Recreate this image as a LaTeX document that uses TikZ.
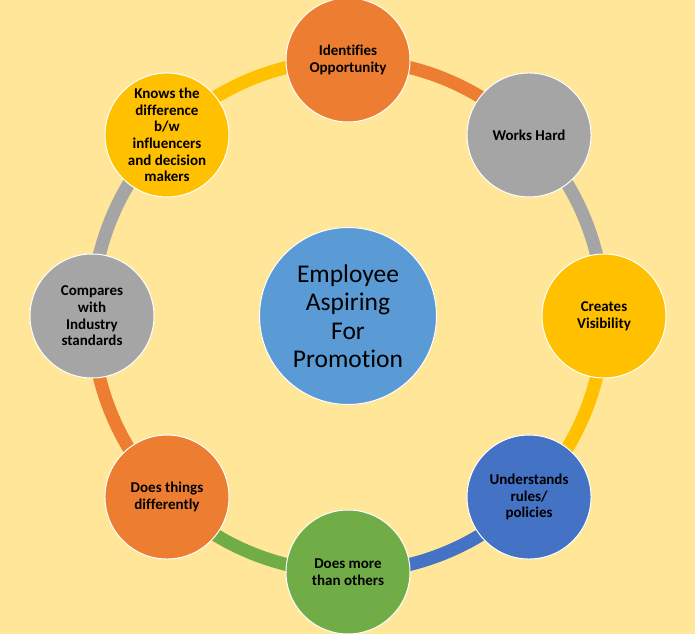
\documentclass[tikz,border=0pt]{standalone}
\usepackage{fontspec}
\setmainfont{Carlito}[Ligatures={NoCommon,NoRare}]
\usetikzlibrary{calc}
\definecolor{bg}{HTML}{FFE699}
\definecolor{corange}{HTML}{ED7D31}
\definecolor{cgray}{HTML}{A5A5A5}
\definecolor{cgold}{HTML}{FFC000}
\definecolor{cblue}{HTML}{4472C4}
\definecolor{cgreen}{HTML}{70AD47}
\definecolor{ccenter}{HTML}{5B9BD5}
\tikzset{
  outer/.style={circle, draw=white, line width=1pt, minimum size=124pt, inner sep=0pt, align=center,
    font=\fontsize{15}{16.7}\selectfont\bfseries, text=black},
  ring/.style={line width=13pt},
}
\begin{document}
\begin{tikzpicture}[x=1pt,y=1pt]
\fill[bg] (0,0) rectangle (695,634);
\useasboundingbox (0,0) rectangle (695,634);
\coordinate (c) at (348,318);
\draw[ring,corange] (c) ++(90:256) arc[start angle=90,end angle=45,radius=256];
\draw[ring,cgray] (c) ++(45:256) arc[start angle=45,end angle=0,radius=256];
\draw[ring,cgold] (c) ++(0:256) arc[start angle=0,end angle=-45,radius=256];
\draw[ring,cblue] (c) ++(-45:256) arc[start angle=-45,end angle=-90,radius=256];
\draw[ring,cgreen] (c) ++(-90:256) arc[start angle=-90,end angle=-135,radius=256];
\draw[ring,corange] (c) ++(-135:256) arc[start angle=-135,end angle=-180,radius=256];
\draw[ring,cgray] (c) ++(180:256) arc[start angle=180,end angle=135,radius=256];
\draw[ring,cgold] (c) ++(135:256) arc[start angle=135,end angle=90,radius=256];
\node[circle, draw=white, line width=1pt, fill=ccenter, minimum size=177pt, inner sep=0pt, align=center,
  font=\fontsize{25.5}{28.5}\selectfont] (center) at (c) {Employee\\Aspiring\\For\\Promotion};
\node[outer, fill=corange] (n1) at ($(c)+(90:256)$) {Identifies\\Opportunity};
\node[outer, fill=cgray] (n2) at ($(c)+(45:256)$) {Works Hard};
\node[outer, fill=cgold] (n3) at ($(c)+(0:256)$) {Creates\\Visibility};
\node[outer, fill=cblue] (n4) at ($(c)+(-45:256)$) {Understands\\rules/\\policies};
\node[outer, fill=cgreen] (n5) at ($(c)+(-90:256)$) {Does more\\than others};
\node[outer, fill=corange] (n6) at ($(c)+(-135:256)$) {Does things\\differently};
\node[outer, fill=cgray] (n7) at ($(c)+(180:256)$) {Compares\\with\\Industry\\standards};
\node[outer, fill=cgold] (n8) at ($(c)+(135:256)$) {Knows the\\difference\\b/w\\influencers\\and decision\\makers};
\end{tikzpicture}
\end{document}
